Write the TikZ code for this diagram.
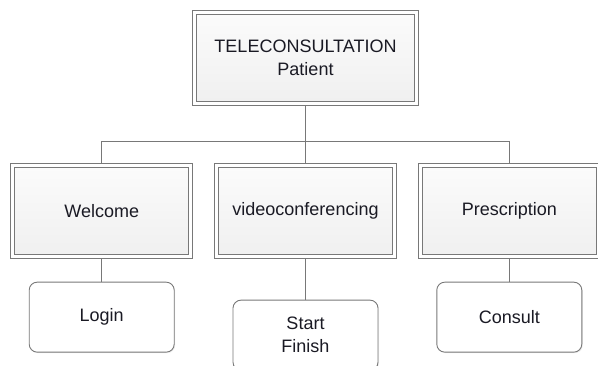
\documentclass[tikz,border=0pt]{standalone}
\usepackage{fontspec}
\setmainfont{Liberation Sans}
\usetikzlibrary{positioning,shadows}

\definecolor{edge}{HTML}{787878}
\definecolor{ink}{HTML}{1A1A24}

\begin{document}
\begin{tikzpicture}[x=1pt,y=1pt,
  font=\fontsize{18}{23}\selectfont, text=ink,
  frame/.style={draw=edge,line width=0.9pt,double=white,double distance=3pt,
    outer sep=2.4pt,top color=white!97!gray,bottom color=white!88!gray,
    align=center,minimum height=91pt},
  leaf/.style={draw=edge,line width=0.9pt,rounded corners=8pt,fill=white,
    drop shadow={opacity=0.15,shadow xshift=1pt,shadow yshift=-1pt},
    align=center,minimum width=145pt,minimum height=70pt,outer sep=0.45pt},
  wire/.style={draw=edge,line width=0.9pt}]
  \clip (0,0) rectangle (598,365);
  \node[frame,minimum width=222pt] (patient) at (305.5,307) {TELECONSULTATION\\Patient};
  \node[frame,minimum width=178pt,below=57pt of patient] (video) {videoconferencing};
  \node[frame,minimum width=178pt,left=21pt of video] (welcome) {Welcome};
  \node[frame,minimum width=178pt,right=21pt of video] (prescription) {Prescription};

  \node[leaf,below=23pt of welcome] (login) {Login};
  \node[leaf,below=41pt of video] (start) {Start\\Finish};
  \node[leaf,below=23pt of prescription] (consult) {Consult};

  \coordinate (bus) at (0,224);
  \draw[wire] (patient.south) -- (patient.south |- bus);
  \draw[wire] (welcome.north) |- (prescription.north |- bus) -- (prescription.north);
  \draw[wire] (video.north) -- (video.north |- bus);
  \draw[wire] (welcome) -- (login);
  \draw[wire] (video) -- (start);
  \draw[wire] (prescription) -- (consult);
\end{tikzpicture}
\end{document}
